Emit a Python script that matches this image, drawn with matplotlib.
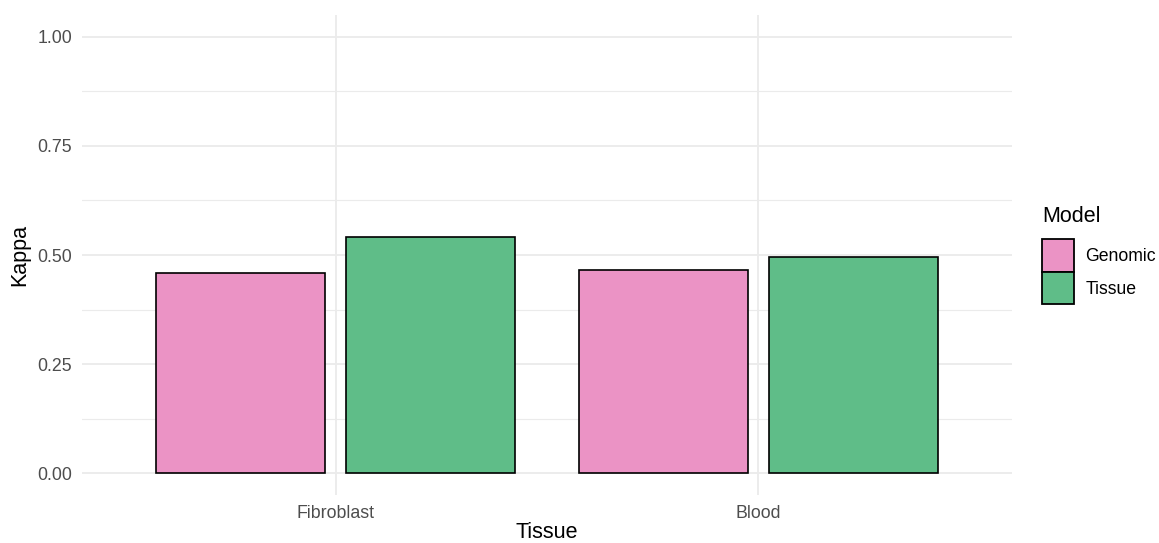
import matplotlib
matplotlib.use('Agg')
from matplotlib import pyplot as plt
from matplotlib.patches import Patch
import numpy as np

plt.rcParams['font.family'] = ['Liberation Sans', 'DejaVu Sans']

tissues = ['Fibroblast', 'Blood']
models = ['Genomic', 'Tissue']
kappa_genomic = [0.458, 0.466]
kappa_tissue = [0.541, 0.496]
colors = {'Genomic': '#EB93C5', 'Tissue': '#5FBD88'}

fig = plt.figure(figsize=(11.59, 5.43), dpi=100)
ax = fig.add_axes([82 / 1159, 1 - 495 / 543, (1012 - 82) / 1159, (495 - 15) / 543])

x = np.arange(1, len(tissues) + 1)
width = 0.4
offset = 0.225
ax.bar(x - offset, kappa_genomic, width, color=colors['Genomic'], edgecolor='black', linewidth=1.2, zorder=3)
ax.bar(x + offset, kappa_tissue, width, color=colors['Tissue'], edgecolor='black', linewidth=1.2, zorder=3)

ax.set_xlim(0.4, 2.6)
ax.set_ylim(-0.05, 1.05)
ax.set_xticks(x)
ax.set_xticklabels(tissues)
ax.set_yticks([0, 0.25, 0.5, 0.75, 1.0])
ax.set_yticklabels(['0.00', '0.25', '0.50', '0.75', '1.00'])
ax.set_yticks([0.125, 0.375, 0.625, 0.875], minor=True)

ax.grid(True, which='major', color='#EBEBEB', linewidth=1.3, zorder=0)
ax.grid(True, which='minor', axis='y', color='#EBEBEB', linewidth=0.8, zorder=0)
for s in ax.spines.values():
    s.set_visible(False)
ax.tick_params(which='both', length=0)
ax.tick_params(axis='both', labelsize=12.8, labelcolor='#4D4D4D')
ax.tick_params(axis='x', pad=7.5)
ax.tick_params(axis='y', pad=7)

ax.set_xlabel('Tissue', fontsize=15.5, labelpad=-0.5)
ax.set_ylabel('Kappa', fontsize=15.5, labelpad=5)

handles = [Patch(facecolor=colors[m], edgecolor='black', linewidth=1.3, label=m) for m in models]
leg = fig.legend(handles=handles, title='Model', loc='upper left',
                 bbox_to_anchor=(1042 / 1159, 1 - 206 / 543), frameon=False,
                 fontsize=12.7, title_fontsize=15.5, handlelength=1.8, handleheight=2.45,
                 labelspacing=0.0, handletextpad=0.65, borderaxespad=0, borderpad=0)
leg._legend_box.align = 'left'
leg._legend_box.sep = 9

fig.savefig('out.png', dpi=100, facecolor='white')
